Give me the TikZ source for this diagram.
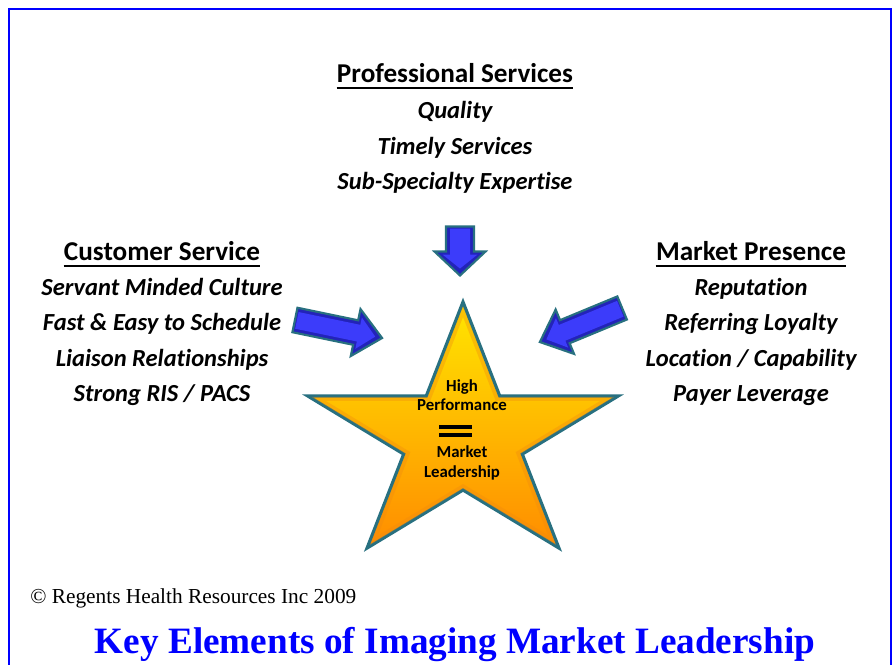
\documentclass[tikz,border=0pt]{standalone}
\usepackage{fontspec}
\setmainfont{Liberation Serif}
\newfontfamily\carl[Ligatures=NoCommon]{Carlito}
\definecolor{bordblue}{RGB}{0,0,255}
\definecolor{arrowblue}{RGB}{60,60,250}
\definecolor{arrowdark}{RGB}{35,35,185}
\definecolor{tealedge}{RGB}{40,112,128}
\definecolor{staryellow}{RGB}{255,230,0}
\definecolor{starorange}{RGB}{255,140,0}
\newcommand\blarrow[8]{% name, x, y, angle, length, shaft, head, headlen
  \begin{scope}[shift={(#2,#3)},rotate=#4]
    \coordinate (#1) at (0,0);
    \filldraw[arrowstyle]
      ({-#5/2},{-#6/2}) -- ({#5/2-#8},{-#6/2}) -- ({#5/2-#8},{-#7/2}) --
      ({#5/2},0) -- ({#5/2-#8},{#7/2}) -- ({#5/2-#8},{#6/2}) --
      ({-#5/2},{#6/2}) -- cycle;
    \fill[arrowblue]
      ({-#5/2+2},{-#6/2+4}) -- ({#5/2-#8+3},{-#6/2+4}) -- ({#5/2-#8+3},{-#7/2+8}) --
      ({#5/2-7},0) -- ({#5/2-#8+3},{#7/2-8}) -- ({#5/2-#8+3},{#6/2-4}) --
      ({-#5/2+2},{#6/2-4}) -- cycle;
  \end{scope}}
\begin{document}
\begin{tikzpicture}[x=0.75pt,y=-0.75pt,
  heading/.style={font=\carl\bfseries\fontsize{20.4}{24}\selectfont,inner sep=0pt,anchor=base},
  item/.style={font=\carl\bfseries\itshape\fontsize{18.4}{22}\selectfont,inner sep=0pt,anchor=base},
  startext/.style={font=\carl\bfseries\fontsize{12.6}{14}\selectfont,inner sep=0pt,anchor=base},
  ul/.style={line width=1.6pt},
  arrowstyle/.style={fill=arrowdark,draw=tealedge,line width=1.6pt,line join=miter}]
\useasboundingbox (0,0) rectangle (896,664);
\fill[white] (0,0) rectangle (896,664);
% frame
\draw[bordblue,line width=2pt] (9,690) -- (9,9) -- (891,9) -- (891,690);
% top column
\node[heading] (ph) at (455,82) {Professional Services};
\draw[ul] ([yshift=-4.5pt]ph.base west) -- ([yshift=-4.5pt]ph.base east);
\node[item] (p1) at (455,118) {Quality};
\node[item] (p2) at (455,154) {Timely Services};
\node[item] (p3) at (455,189) {Sub-Specialty Expertise};
% left column
\node[heading] (ch) at (162,260) {Customer Service};
\draw[ul] ([yshift=-4.5pt]ch.base west) -- ([yshift=-4.5pt]ch.base east);
\node[item] (c1) at (162,295) {Servant Minded Culture};
\node[item] (c2) at (162,330) {Fast \& Easy to Schedule};
\node[item] (c3) at (162,366) {Liaison Relationships};
\node[item] (c4) at (162,401) {Strong RIS / PACS};
% right column
\node[heading] (mh) at (751,260) {Market Presence};
\draw[ul] ([yshift=-4.5pt]mh.base west) -- ([yshift=-4.5pt]mh.base east);
\node[item] (m1) at (751,295) {Reputation};
\node[item] (m2) at (751,330) {Referring Loyalty};
\node[item] (m3) at (751,366) {Location / Capability};
\node[item] (m4) at (751,401) {Payer Leverage};
% arrows
\blarrow{atop}{460}{251}{-90}{49}{28}{51}{24}
\blarrow{aleft}{338.5}{329}{-11.7}{89}{25}{48}{27}
\blarrow{aright}{581}{325}{202.5}{89}{25}{48}{27}
% star
\draw[tealedge,line width=2.4pt,line join=miter,top color=staryellow,bottom color=starorange]
  (463,302) -- (426.3,395.9) -- (307.8,396) -- (403.7,454.1) -- (367.1,548) --
  (463,490) -- (558.9,548) -- (522.3,454.1) -- (618.2,396) -- (499.7,395.9) -- cycle;
\begin{scope}[shift={(463,438)},scale=0.93,shift={(-463,-438)}]
\draw[starorange!75!brown,opacity=0.35,line width=3pt,line join=miter]
  (463,302) -- (426.3,395.9) -- (307.8,396) -- (403.7,454.1) -- (367.1,548) --
  (463,490) -- (558.9,548) -- (522.3,454.1) -- (618.2,396) -- (499.7,395.9) -- cycle;
\end{scope}
\node[startext] (s1) at (462,391) {High};
\node[startext] (s2) at (462,410) {Performance};
\fill[black] (439,424.5) rectangle (472,428.5);
\fill[black] (439,433) rectangle (472,437);
\node[startext] (s3) at (462,457) {Market};
\node[startext] (s4) at (462,477) {Leadership};
% footer
\node[font=\fontsize{16}{18}\selectfont,inner sep=0pt,anchor=base west] (copy) at (30,603) {© Regents Health Resources Inc 2009};
\node[font=\bfseries\fontsize{27.9}{32}\selectfont,text=bordblue,inner sep=0pt,anchor=base] (title) at (455,653) {Key Elements of Imaging Market Leadership};
\end{tikzpicture}
\end{document}
